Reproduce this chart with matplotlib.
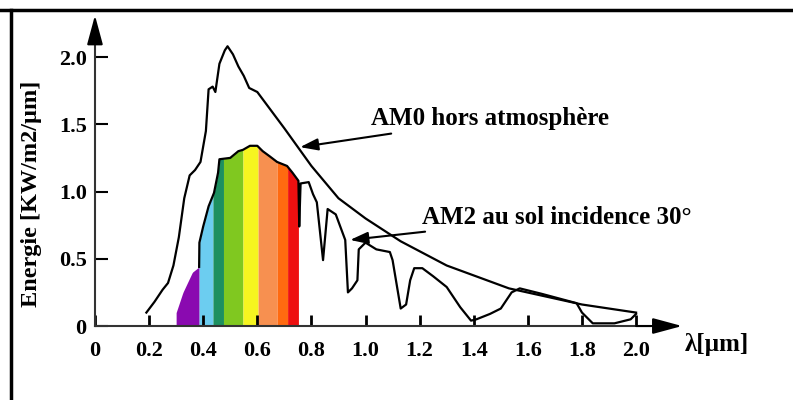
import matplotlib.pyplot as plt
import numpy as np
from matplotlib.lines import Line2D

# AM0 spectrum, outside the atmosphere (wavelength in um, energy in kW/m2/um)
am0_wl = [0.19, 0.22, 0.25, 0.27, 0.29, 0.31, 0.33, 0.35, 0.37, 0.39, 0.41, 0.42,
          0.435, 0.445, 0.46, 0.48, 0.49, 0.51, 0.53, 0.55, 0.57, 0.60, 0.70, 0.80,
          0.90, 1.00, 1.13, 1.30, 1.53, 1.80, 2.00]
am0_e = [0.10, 0.18, 0.27, 0.32, 0.45, 0.66, 0.95, 1.12, 1.16, 1.22, 1.45, 1.76,
         1.78, 1.74, 1.95, 2.05, 2.08, 2.02, 1.93, 1.86, 1.77, 1.74, 1.47, 1.19,
         0.95, 0.80, 0.63, 0.45, 0.28, 0.16, 0.10]

# AM2 spectrum, ground level, 30 deg incidence
am2_wl = [0.30, 0.325, 0.36, 0.385, 0.386, 0.40, 0.42, 0.44, 0.455, 0.46, 0.50,
          0.53, 0.547, 0.573, 0.60, 0.62, 0.647, 0.673, 0.71, 0.73, 0.752, 0.755,
          0.76, 0.79, 0.806, 0.82, 0.843, 0.86, 0.89, 0.925, 0.935, 0.95, 0.97,
          0.975, 1.00, 1.04, 1.09, 1.10, 1.13, 1.15, 1.165, 1.18, 1.21, 1.25, 1.30,
          1.35, 1.39, 1.41, 1.46, 1.50, 1.54, 1.57, 1.65, 1.78, 1.80, 1.84, 1.92,
          1.98, 2.00]
am2_e = [0.10, 0.25, 0.40, 0.44, 0.62, 0.74, 0.89, 0.99, 1.14, 1.24, 1.25,
         1.30, 1.31, 1.34, 1.34, 1.30, 1.26, 1.22, 1.19, 1.14, 1.08, 0.74,
         1.06, 1.07, 0.98, 0.92, 0.49, 0.87, 0.83, 0.64, 0.25, 0.28, 0.34,
         0.57, 0.62, 0.57, 0.55, 0.49, 0.13, 0.16, 0.34, 0.43, 0.43, 0.37, 0.29,
         0.14, 0.04, 0.05, 0.09, 0.13, 0.25, 0.28, 0.24, 0.17, 0.10, 0.02, 0.02,
         0.05, 0.09]

# visible colour bands under the AM2 curve
band_edges = [0.30, 0.385, 0.436, 0.475, 0.547, 0.603, 0.673, 0.712, 0.752]
band_colors = ['#8a0ab0', '#6ccdf0', '#1d9060', '#80c820', '#f6f520',
               '#f79050', '#ff6a10', '#ee1010']

xticks = [0, 0.2, 0.4, 0.6, 0.8, 1.0, 1.2, 1.4, 1.6, 1.8, 2.0]
xtick_labels = ['0', '0.2', '0.4', '0.6', '0.8', '1.0', '1.2', '1.4', '1.6', '1.8', '2.0']
yticks = [0, 0.5, 1.0, 1.5, 2.0]
ytick_labels = ['0', '0.5', '1.0', '1.5', '2.0']

plt.rcParams['font.family'] = ['Liberation Serif', 'DejaVu Serif']
plt.rcParams['font.weight'] = 'bold'

fig = plt.figure(figsize=(7.93, 4.0), dpi=100)
# axes covers the whole picture, limits put 0..2 where the drawn axes are
ax = fig.add_axes([0, 0, 1, 1])
ax.set_xlim(-0.351, 2.580)
ax.set_ylim(-0.550, 2.424)
ax.patch.set_alpha(0)

# rainbow bands
for i in range(len(band_colors)):
    xs = np.linspace(band_edges[i], band_edges[i + 1], 30)
    ys = np.interp(xs, am2_wl, am2_e)
    ax.fill_between(xs, 0, ys, color=band_colors[i], lw=0, zorder=1)

ax.plot(am0_wl, am0_e, color='k', lw=1.6, zorder=3)
am2_wl_line = [w for w in am2_wl if w >= 0.385]
am2_e_line = am2_e[len(am2_wl) - len(am2_wl_line):]
ax.plot(am2_wl_line, am2_e_line, color='k', lw=1.6, zorder=3)

# axes through the origin with arrow heads
for s in ['top', 'right']:
    ax.spines[s].set_visible(False)
ax.spines['left'].set_position(('data', 0))
ax.spines['bottom'].set_position(('data', 0))
ax.spines['left'].set_bounds(0, 2.15)
ax.spines['bottom'].set_bounds(0, 2.05)
ax.spines['left'].set_linewidth(1.5)
ax.spines['bottom'].set_linewidth(1.5)
ax.spines['left'].set_color('#333333')
ax.spines['bottom'].set_color('#333333')
arrow = dict(arrowstyle='-|>,head_length=1.0,head_width=0.27', color='k',
             lw=1.5, mutation_scale=18, shrinkA=0, shrinkB=0)
ax.annotate('', xy=(0, 2.31), xytext=(0, 2.1), arrowprops=arrow)
ax.annotate('', xy=(2.17, 0), xytext=(2.0, 0), arrowprops=arrow)

ax.set_xticks(xticks)
ax.set_xticklabels(xtick_labels)
ax.set_yticks(yticks)
ax.set_yticklabels(ytick_labels)
ax.tick_params(axis='x', direction='in', length=8, width=2, pad=11, labelsize=16)
ax.tick_params(axis='y', direction='in', length=9, width=1.5, pad=6, labelsize=16)

ax.text(2.18, -0.14, 'λ[µm]', fontsize=18, ha='left', va='center')
fig.text(32 / 793, 1 - 194 / 400, 'Energie [KW/m2/µm]', rotation=90,
         ha='center', va='center', fontsize=17.5, weight='bold')

# annotations
small_arrow = dict(arrowstyle='-|>,head_length=0.6,head_width=0.2', color='k',
                   lw=1.5, mutation_scale=18, shrinkA=2, shrinkB=0)
ax.annotate('AM0 hors atmosphère', xy=(0.758, 1.33), xytext=(1.02, 1.54),
            fontsize=18, ha='left', va='center', arrowprops=small_arrow)
ax.annotate('AM2 au sol incidence 30°', xy=(0.943, 0.64), xytext=(1.21, 0.81),
            fontsize=18, ha='left', va='center', arrowprops=small_arrow)

# frame lines of the original picture (top and left only)
fig.add_artist(Line2D([0, 1], [1 - 10 / 400, 1 - 10 / 400], color='k', lw=2.5))
fig.add_artist(Line2D([11 / 793, 11 / 793], [0, 1 - 10 / 400], color='k', lw=2.5))

fig.savefig('out.png', dpi=100, facecolor='white')
